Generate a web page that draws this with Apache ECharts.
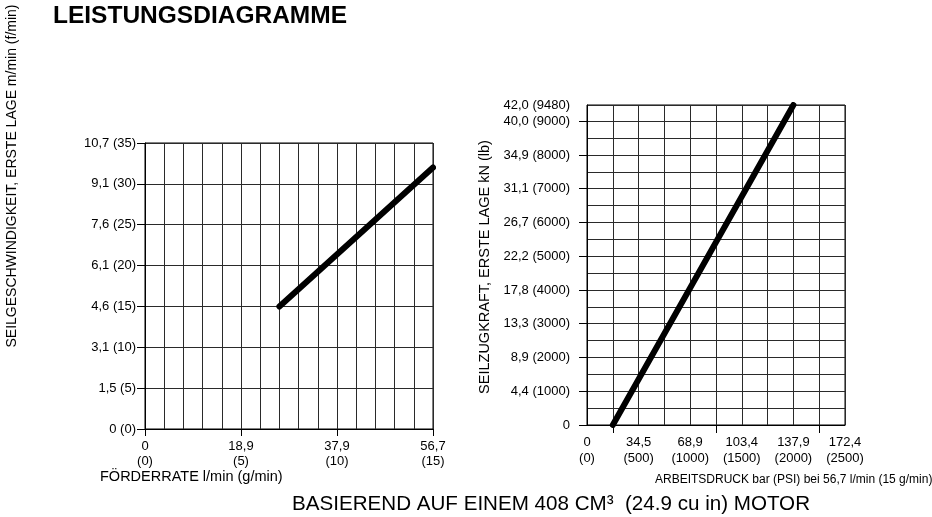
<!DOCTYPE html>
<html>
<head>
<meta charset="utf-8">
<script src="https://cdn.jsdelivr.net/npm/echarts@6/dist/echarts.min.js"></script>
<style>
  html, body { margin: 0; padding: 0; background: #ffffff; }
  #chart { width: 932px; height: 517px; }
</style>
</head>
<body>
<div id="chart"></div>
<script>
// Left diagram: line speed vs. flow rate (axes in g/min and ft/min)
const flowGpm = [7, 15];
const speedFpm = [15, 32];
const leftXTickValues = [0, 5, 10, 15];
const leftXTickText = ['0\n(0)', '18,9\n(5)', '37,9\n(10)', '56,7\n(15)'];
const leftYTickValues = [0, 5, 10, 15, 20, 25, 30, 35];
const leftYTickText = ['0 (0)', '1,5 (5)', '3,1 (10)', '4,6 (15)', '6,1 (20)', '7,6 (25)', '9,1 (30)', '10,7 (35)'];

// Right diagram: line pull vs. working pressure (axes in PSI and lb)
const pressurePsi = [250, 2000];
const pullLb = [0, 9480];
const rightXTickValues = [0, 500, 1000, 1500, 2000, 2500];
const rightXTickText = ['0\n(0)', '34,5\n(500)', '68,9\n(1000)', '103,4\n(1500)', '137,9\n(2000)', '172,4\n(2500)'];
const rightXTickMarks = [250, 1250, 2250];
const rightYTickValues = [0, 1000, 2000, 3000, 4000, 5000, 6000, 7000, 8000, 9000, 9480];
const rightYTickText = ['0', '4,4 (1000)', '8,9 (2000)', '13,3 (3000)', '17,8 (4000)', '22,2 (5000)',
  '26,7 (6000)', '31,1 (7000)', '34,9 (8000)', '40,0 (9000)', '42,0 (9480)'];
const rightYTickMarks = [0, 1000, 2000, 3000, 4000, 5000, 6000, 7000, 8000, 9000];

const FONT = "'Liberation Sans', Arial, Helvetica, sans-serif";
const GRID_COLOR = '#2a2a2a';

function lookup(values, texts) {
  return function (v) {
    const i = values.findIndex(function (x) { return Math.abs(x - v) < 1e-6; });
    return i >= 0 ? texts[i] : '';
  };
}

function pairs(xs, ys) {
  return xs.map(function (x, i) { return [x, ys[i]]; });
}

// Axis that only draws the chart-paper grid lines
function gridAxis(gridIndex, position, min, max, interval) {
  return {
    type: 'value', gridIndex: gridIndex, position: position, min: min, max: max, interval: interval,
    axisLine: { show: true, onZero: false, lineStyle: { color: '#000', width: 1 } },
    axisTick: { show: false },
    axisLabel: { show: false },
    splitLine: { show: true, lineStyle: { color: GRID_COLOR, width: 1 } }
  };
}

// Axis that carries the labelled values and their tick marks
function labelAxis(gridIndex, position, min, max, labelValues, labelText, tickValues, tickLen, labelOpts) {
  return {
    type: 'value', gridIndex: gridIndex, position: position, min: min, max: max,
    axisLine: { show: false, onZero: false },
    axisTick: { show: true, length: tickLen, customValues: tickValues, lineStyle: { color: '#000', width: 1 } },
    axisLabel: Object.assign({
      customValues: labelValues, formatter: lookup(labelValues, labelText),
      fontSize: 13, color: '#000', fontFamily: FONT
    }, labelOpts),
    splitLine: { show: false }
  };
}

const chart = echarts.init(document.getElementById('chart'), null, { renderer: 'canvas' });

chart.setOption({
  animation: false,
  backgroundColor: '#ffffff',
  textStyle: { fontFamily: FONT, color: '#000' },
  grid: [
    { left: 145, top: 143, width: 288, height: 286, show: true, borderColor: '#000', borderWidth: 1, backgroundColor: 'transparent' },
    { left: 587, top: 105, width: 258, height: 320, show: true, borderColor: '#000', borderWidth: 1, backgroundColor: 'transparent' }
  ],
  xAxis: [
    gridAxis(0, 'bottom', 0, 15, 1),
    gridAxis(1, 'bottom', 0, 2500, 250),
    labelAxis(0, 'bottom', 0, 15, leftXTickValues, leftXTickText, leftXTickValues, 7, { lineHeight: 15, margin: 10 }),
    labelAxis(1, 'bottom', 0, 2500, rightXTickValues, rightXTickText, rightXTickMarks, 8, { lineHeight: 16, margin: 9 })
  ],
  yAxis: [
    gridAxis(0, 'left', 0, 35, 5),
    gridAxis(1, 'left', 0, 9480, 500),
    labelAxis(0, 'left', 0, 35, leftYTickValues, leftYTickText, leftYTickValues, 8, { margin: 9 }),
    labelAxis(1, 'left', 0, 9480, rightYTickValues, rightYTickText, rightYTickMarks, 8, { margin: 17 })
  ],
  series: [
    {
      type: 'line', xAxisIndex: 0, yAxisIndex: 0,
      data: pairs(flowGpm, speedFpm),
      showSymbol: false, silent: true,
      lineStyle: { color: '#000', width: 6, cap: 'round' }
    },
    {
      type: 'line', xAxisIndex: 1, yAxisIndex: 1,
      data: pairs(pressurePsi, pullLb),
      showSymbol: false, silent: true,
      lineStyle: { color: '#000', width: 6, cap: 'round' }
    }
  ],
  graphic: [
    {
      type: 'text', left: 53, top: 4,
      style: { text: 'LEISTUNGSDIAGRAMME', font: 'bold 24.5px ' + FONT, fill: '#000' }
    },
    {
      type: 'text', x: 12, y: 176, rotation: Math.PI / 2,
      style: {
        text: 'SEILGESCHWINDIGKEIT, ERSTE LAGE m/min (f/min)', font: '14px ' + FONT, fill: '#000',
        align: 'center', verticalAlign: 'middle'
      }
    },
    {
      type: 'text', x: 485, y: 267, rotation: Math.PI / 2,
      style: {
        text: 'SEILZUGKRAFT, ERSTE LAGE kN (lb)', font: '14.5px ' + FONT, fill: '#000',
        align: 'center', verticalAlign: 'middle'
      }
    },
    {
      type: 'text', x: 100, y: 477,
      style: { text: 'FÖRDERRATE l/min (g/min)', font: '14.5px ' + FONT, fill: '#000', verticalAlign: 'middle' }
    },
    {
      type: 'text', x: 655, y: 480,
      style: { text: 'ARBEITSDRUCK bar (PSI) bei 56,7 l/min (15 g/min)', font: '12px ' + FONT, fill: '#000', verticalAlign: 'middle' }
    },
    {
      type: 'text', x: 551, y: 504,
      style: {
        text: 'BASIEREND AUF EINEM 408 CM³  (24.9 cu in) MOTOR', font: '20.6px ' + FONT, fill: '#000',
        align: 'center', verticalAlign: 'middle'
      }
    }
  ]
});
</script>
</body>
</html>
